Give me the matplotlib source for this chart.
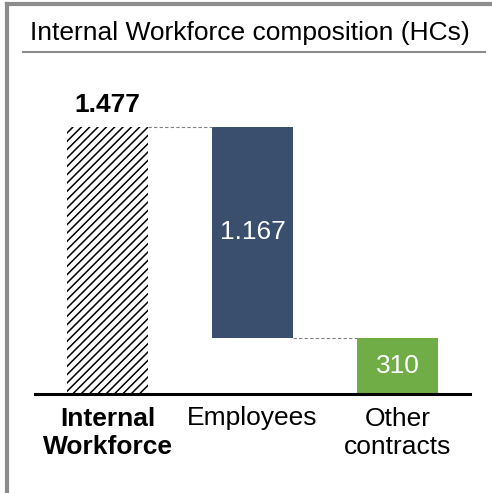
import matplotlib.pyplot as plt
from matplotlib.lines import Line2D

# data
categories = ["Internal\nWorkforce", "Employees", "Other\ncontracts"]
total = 1477
employees = 1167
other_contracts = 310
value_labels = ["1.477", "1.167", "310"]

plt.rcParams["font.family"] = ["Liberation Sans", "DejaVu Sans"]
plt.rcParams["hatch.linewidth"] = 1.1

fig = plt.figure(figsize=(4.92, 4.93), dpi=100)
W, H = 492, 493

# outer frame (top and left only) and title underline
fig.add_artist(Line2D([7 / W, 1.0], [1 - 4 / H, 1 - 4 / H], color="#8c8c8c", linewidth=3))
fig.add_artist(Line2D([7 / W, 7 / W], [0.0, 1 - 4 / H], color="#8c8c8c", linewidth=3))
fig.add_artist(Line2D([23 / W, 485 / W], [1 - 52 / H, 1 - 52 / H], color="#8c8c8c", linewidth=1.5))
fig.text(30 / W, 1 - 33 / H, "Internal Workforce composition (HCs)", fontsize=19,
         ha="left", va="center")

base_px = 394
top_px = 60
ax = fig.add_axes([35 / W, 1 - base_px / H, 435 / W, (base_px - top_px) / H])
ymax = (base_px - top_px) / (base_px - 127) * total
ax.set_xlim(-0.5, 2.5)
ax.set_ylim(0, ymax)

width = 0.56
ax.bar(0, total, width, color="white", edgecolor="black", hatch="////", linewidth=0)
ax.bar(1, employees, width, bottom=other_contracts, color="#3a4e6d", linewidth=0)
ax.bar(2, other_contracts, width, color="#70ad47", linewidth=0)

# connectors
ax.plot([width / 2, 1 - width / 2], [total, total], color="#808080", linestyle="--",
        linewidth=0.8, dashes=(3, 2))
ax.plot([1 + width / 2, 2 - width / 2], [other_contracts, other_contracts], color="#808080",
        linestyle="--", linewidth=0.8, dashes=(3, 2))

ax.axhline(0, color="black", linewidth=2.2, clip_on=False)

ax.text(0, total + 55, value_labels[0], ha="center", va="bottom", fontsize=19, fontweight="bold")
ax.text(1, other_contracts + employees / 2, value_labels[1], ha="center", va="center",
        fontsize=19, color="white")
ax.text(2, other_contracts / 2, value_labels[2], ha="center", va="center", fontsize=19,
        color="white")

ax.set_xticks([0, 1, 2])
ax.set_xticklabels(categories, fontsize=19, linespacing=1.25)
ax.get_xticklabels()[0].set_fontweight("bold")
ax.tick_params(axis="x", length=0, pad=9)
ax.set_yticks([])
for s in ax.spines.values():
    s.set_visible(False)

fig.savefig("out.png", dpi=100)
